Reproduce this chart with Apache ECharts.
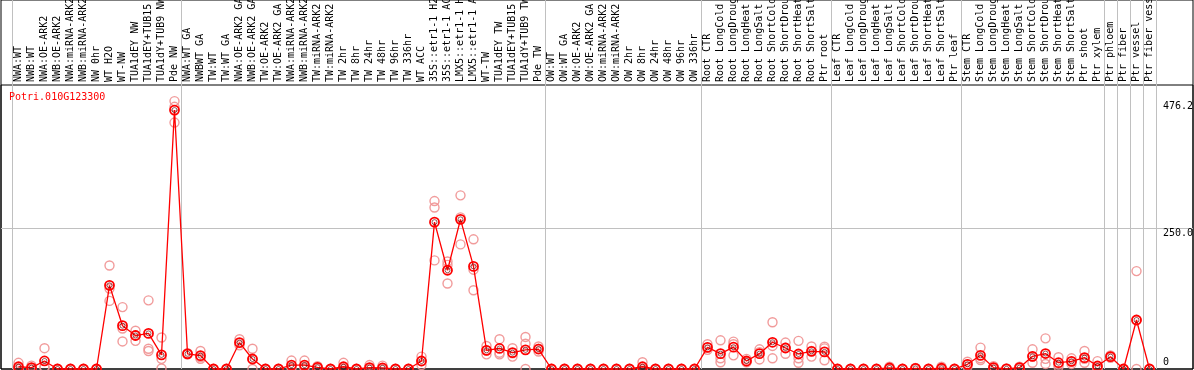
<!DOCTYPE html>
<html><head><meta charset="utf-8">
<script src="https://cdn.jsdelivr.net/npm/echarts@6/dist/echarts.min.js"></script>
<style>html,body{margin:0;padding:0;background:#fff}#c{width:1194px;height:370px}</style>
</head><body><div id="c"></div>
<script>
const geneName = 'Potri.010G123300';
const categories = [
  'NWA:WT','NWB:WT','NWA:OE-ARK2','NWB:OE-ARK2','NWA:miRNA-ARK2','NWB:miRNA-ARK2','NW 0hr','WT H2O','WT-NW',
  'TUA1dEY NW','TUA1dEY+TUB15 NW','TUA1dY+TUB9 NW','Pde NW',
  'NWA:WT GA','NWBWT GA','TW:WT','TW:WT GA','NWA:OE-ARK2 GA','NWB:OE-ARK2 GA','TW:OE-ARK2','TW:OE-ARK2 GA',
  'NWA:miRNA-ARK2 GA','NWB:miRNA-ARK2 GA','TW:miRNA-ARK2','TW:miRNA-ARK2 GA','TW 2hr','TW 8hr','TW 24hr','TW 48hr',
  'TW 96hr','TW 336hr','WT ACC','35S::etr1-1 H2O','35S::etr1-1 ACC','LMX5::etr1-1 H2O','LMX5::etr1-1 ACC','WT-TW',
  'TUA1dEY TW','TUA1dEY+TUB15 TW','TUA1dY+TUB9 TW','Pde TW',
  'OW:WT','OW:WT GA','OW:OE-ARK2','OW:OE-ARK2 GA','OW:miRNA-ARK2','OW:miRNA-ARK2 GA','OW 2hr','OW 8hr','OW 24hr',
  'OW 48hr','OW 96hr','OW 336hr',
  'Root CTR','Root LongCold','Root LongDrought','Root LongHeat','Root LongSalt','Root ShortCold','Root ShortDrought',
  'Root ShortHeat','Root ShortSalt','Ptr root',
  'Leaf CTR','Leaf LongCold','Leaf LongDrought','Leaf LongHeat','Leaf LongSalt','Leaf ShortCold','Leaf ShortDrought',
  'Leaf ShortHeat','Leaf ShortSalt','Ptr leaf',
  'Stem CTR','Stem LongCold','Stem LongDrought','Stem LongHeat','Stem LongSalt','Stem ShortCold','Stem ShortDrought',
  'Stem ShortHeat','Stem ShortSalt','Ptr shoot','Ptr xylem','Ptr phloem','Ptr fiber','Ptr vessel','Ptr fiber vessel'
];
const means = [
  4, 2.4, 14.3, 0, 0, 0, 0, 148.7, 77, 59.5, 63.3, 25, 460.2,
  27, 23.7, 0, 0, 47, 17.8, 0, 0, 7, 7, 3, 0, 4, 0, 2.4, 2, 0, 0, 14.2, 261, 175.5, 266, 182.3, 33.2, 36.5, 29, 34, 35.5,
  0, 0, 0, 0, 0, 0, 0, 4, 0, 0, 0, 0,
  38.5, 27.3, 38.8, 14.2, 27.3, 47.5, 37.3, 26.7, 31.4, 30.4,
  0, 0, 0, 0, 1.8, 0, 1, 0, 1.3, 0,
  8.3, 24.3, 2.4, 0.3, 2.4, 22.5, 27.5, 11.2, 13.6, 20.2, 5.3, 21.9, 0, 87.1, 0
];
const rep1 = [
  11, 6, 37, 0, 0, 0, 0, 184, 110, 68, 122, 56, 476.2,
  28, 32, 0, 0, 53, 36, 0, 0, 15, 15, 5, 0, 11, 0, 7, 6, 0, 0, 22, 298.5, 191, 308.6, 230.5, 41, 53, 37, 57, 40,
  0, 0, 0, 0, 0, 0, 0, 12, 0, 0, 0, 0,
  44, 51, 48.6, 18, 35, 83, 47, 50, 40, 39.6,
  0, 0, 0, 0, 4, 0, 2, 0, 4, 0,
  13, 38, 5, 1, 4, 35, 54.5, 21, 19, 32, 14, 24, 0, 174, 0
];
const rep2 = [
  1, 1, 4, 0, 0, 0, 0, 143, 72, 60, 36, 18, 438,
  27, 18, 0, 0, 46, 0, 0, 0, 4, 4, 3, 0, 1, 0, 0, 0, 0, 0, 14, 287, 185, 269.5, 176.5, 33, 29, 28, 45, 36,
  0, 0, 0, 0, 0, 0, 0, 0, 0, 0, 0, 0,
  38, 19, 44, 13, 30, 41, 38, 19, 32, 36.7,
  0, 0, 0, 0, 1, 0, 1, 0, 0, 0,
  8, 19, 2, 0, 2, 22, 18, 8, 13, 18, 2, 22, 0, 87, 0
];
const rep3 = [
  0, 0, 2, 0, 0, 0, 0, 121, 49, 50, 32, 1, 466,
  26, 21, 0, 0, 42, 17, 0, 0, 2, 2, 1, 0, 0, 0, 0, 0, 0, 0, 7, 193, 152, 221.5, 140, 26, 26, 22, 0, 31,
  0, 0, 0, 0, 0, 0, 0, 0, 0, 0, 0, 0,
  34, 12, 24.3, 12, 17, 19, 27, 11, 22, 15.5,
  0, 0, 0, 0, 0, 0, 0, 0, 0, 0,
  4, 16, 0, 0, 1, 11, 9, 4, 9, 11, 0, 20, 0, 0, 0
];
const groupStarts = [0, 13, 41, 53, 63, 73, 84, 85, 86, 87];
const yGridValues = [250];
const yLabelValues = [250, 476.2];
const yZeroLabel = [0];
const yMax = 476.2 * 1.06;

const repData = [];
categories.forEach((c, i) => {
  [rep1, rep2, rep3].forEach(r => repData.push([i, r[i]]));
});
const meanData = means.map((v, i) => [i, v]);

const FONT = 'DejaVu Sans Mono';
const vSplit = {
  show: true,
  interval: (idx) => groupStarts.includes(idx),
  lineStyle: { color: '#c0c0c0', width: 1 }
};

const chart = echarts.init(document.getElementById('c'), null, { renderer: 'canvas' });
chart.setOption({
  animation: false,
  backgroundColor: '#fff',
  title: {
    text: geneName, left: 9, top: 92, padding: 0,
    textStyle: { fontSize: 10, fontWeight: 'normal', color: '#ff0000', fontFamily: FONT }
  },
  grid: [
    { left: 1, right: 1, top: 0, bottom: 1, show: true, borderColor: '#000', borderWidth: 1, backgroundColor: 'transparent', outerBoundsMode: 'none', containLabel: false },
    { left: 1, right: 1, top: 85, bottom: 1, show: true, borderColor: '#000', borderWidth: 1, backgroundColor: 'transparent', outerBoundsMode: 'none', containLabel: false },
    { left: 12, width: 1144, top: 85, bottom: 1, outerBoundsMode: 'none', containLabel: false },
    { left: 12, width: 1144, top: 0, height: 85, outerBoundsMode: 'none', containLabel: false }
  ],
  xAxis: [
    { gridIndex: 0, type: 'value', show: false, min: 0, max: 1 },
    { gridIndex: 1, type: 'value', show: false, min: 0, max: 1 },
    {
      gridIndex: 2, type: 'category', position: 'top', data: categories, boundaryGap: true,
      axisLine: { show: false }, axisTick: { show: false },
      axisLabel: { interval: 0, rotate: 90, margin: 3, align: 'left', verticalAlign: 'middle', fontSize: 10, fontFamily: FONT, color: '#000', hideOverlap: false },
      splitLine: vSplit, z: 1
    },
    {
      gridIndex: 3, type: 'category', data: categories, boundaryGap: true,
      axisLine: { show: false }, axisTick: { show: false }, axisLabel: { show: false },
      splitLine: vSplit
    }
  ],
  yAxis: [
    { gridIndex: 0, type: 'value', show: false, min: 0, max: 1 },
    {
      gridIndex: 1, type: 'value', min: 0, max: yMax,
      axisLine: { show: false }, axisTick: { show: false, customValues: yGridValues },
      axisLabel: { show: false },
      splitLine: { show: true, lineStyle: { color: '#c0c0c0', width: 1 } }
    },
    {
      gridIndex: 2, type: 'value', position: 'right', min: 0, max: yMax,
      axisLine: { show: false }, axisTick: { show: false }, splitLine: { show: false },
      axisLabel: {
        customValues: yLabelValues, formatter: v => v.toFixed(1), align: 'left', verticalAlign: 'top',
        margin: 7, fontSize: 10, fontFamily: FONT, color: '#000'
      }
    },
    {
      gridIndex: 2, type: 'value', position: 'right', min: 0, max: yMax,
      axisLine: { show: false }, axisTick: { show: false }, splitLine: { show: false },
      axisLabel: {
        customValues: yZeroLabel, formatter: v => String(v), align: 'left', verticalAlign: 'bottom',
        margin: 7, fontSize: 10, fontFamily: FONT, color: '#000', padding: [0, 0, 2, 0]
      }
    },
    { gridIndex: 3, type: 'value', show: false, min: 0, max: 1 }
  ],
  series: [
    {
      type: 'scatter', xAxisIndex: 2, yAxisIndex: 2, data: repData, clip: false, z: 3,
      symbol: 'circle', symbolSize: 9,
      itemStyle: { color: 'transparent', borderColor: '#f09090', borderWidth: 1.4, opacity: 0.9 }
    },
    {
      type: 'line', xAxisIndex: 2, yAxisIndex: 2, data: meanData, clip: false, z: 4,
      showAllSymbol: true, symbol: 'circle', symbolSize: 9,
      lineStyle: { color: '#ff0000', width: 1.3 },
      itemStyle: { color: 'transparent', borderColor: '#ff0000', borderWidth: 1.8 }
    },
    {
      type: 'scatter', xAxisIndex: 2, yAxisIndex: 2, data: meanData, clip: false, z: 5,
      symbol: 'circle', symbolSize: 5,
      itemStyle: { color: 'transparent', borderColor: '#5a0000', borderWidth: 0.8 }
    }
  ]
});
</script></body></html>
